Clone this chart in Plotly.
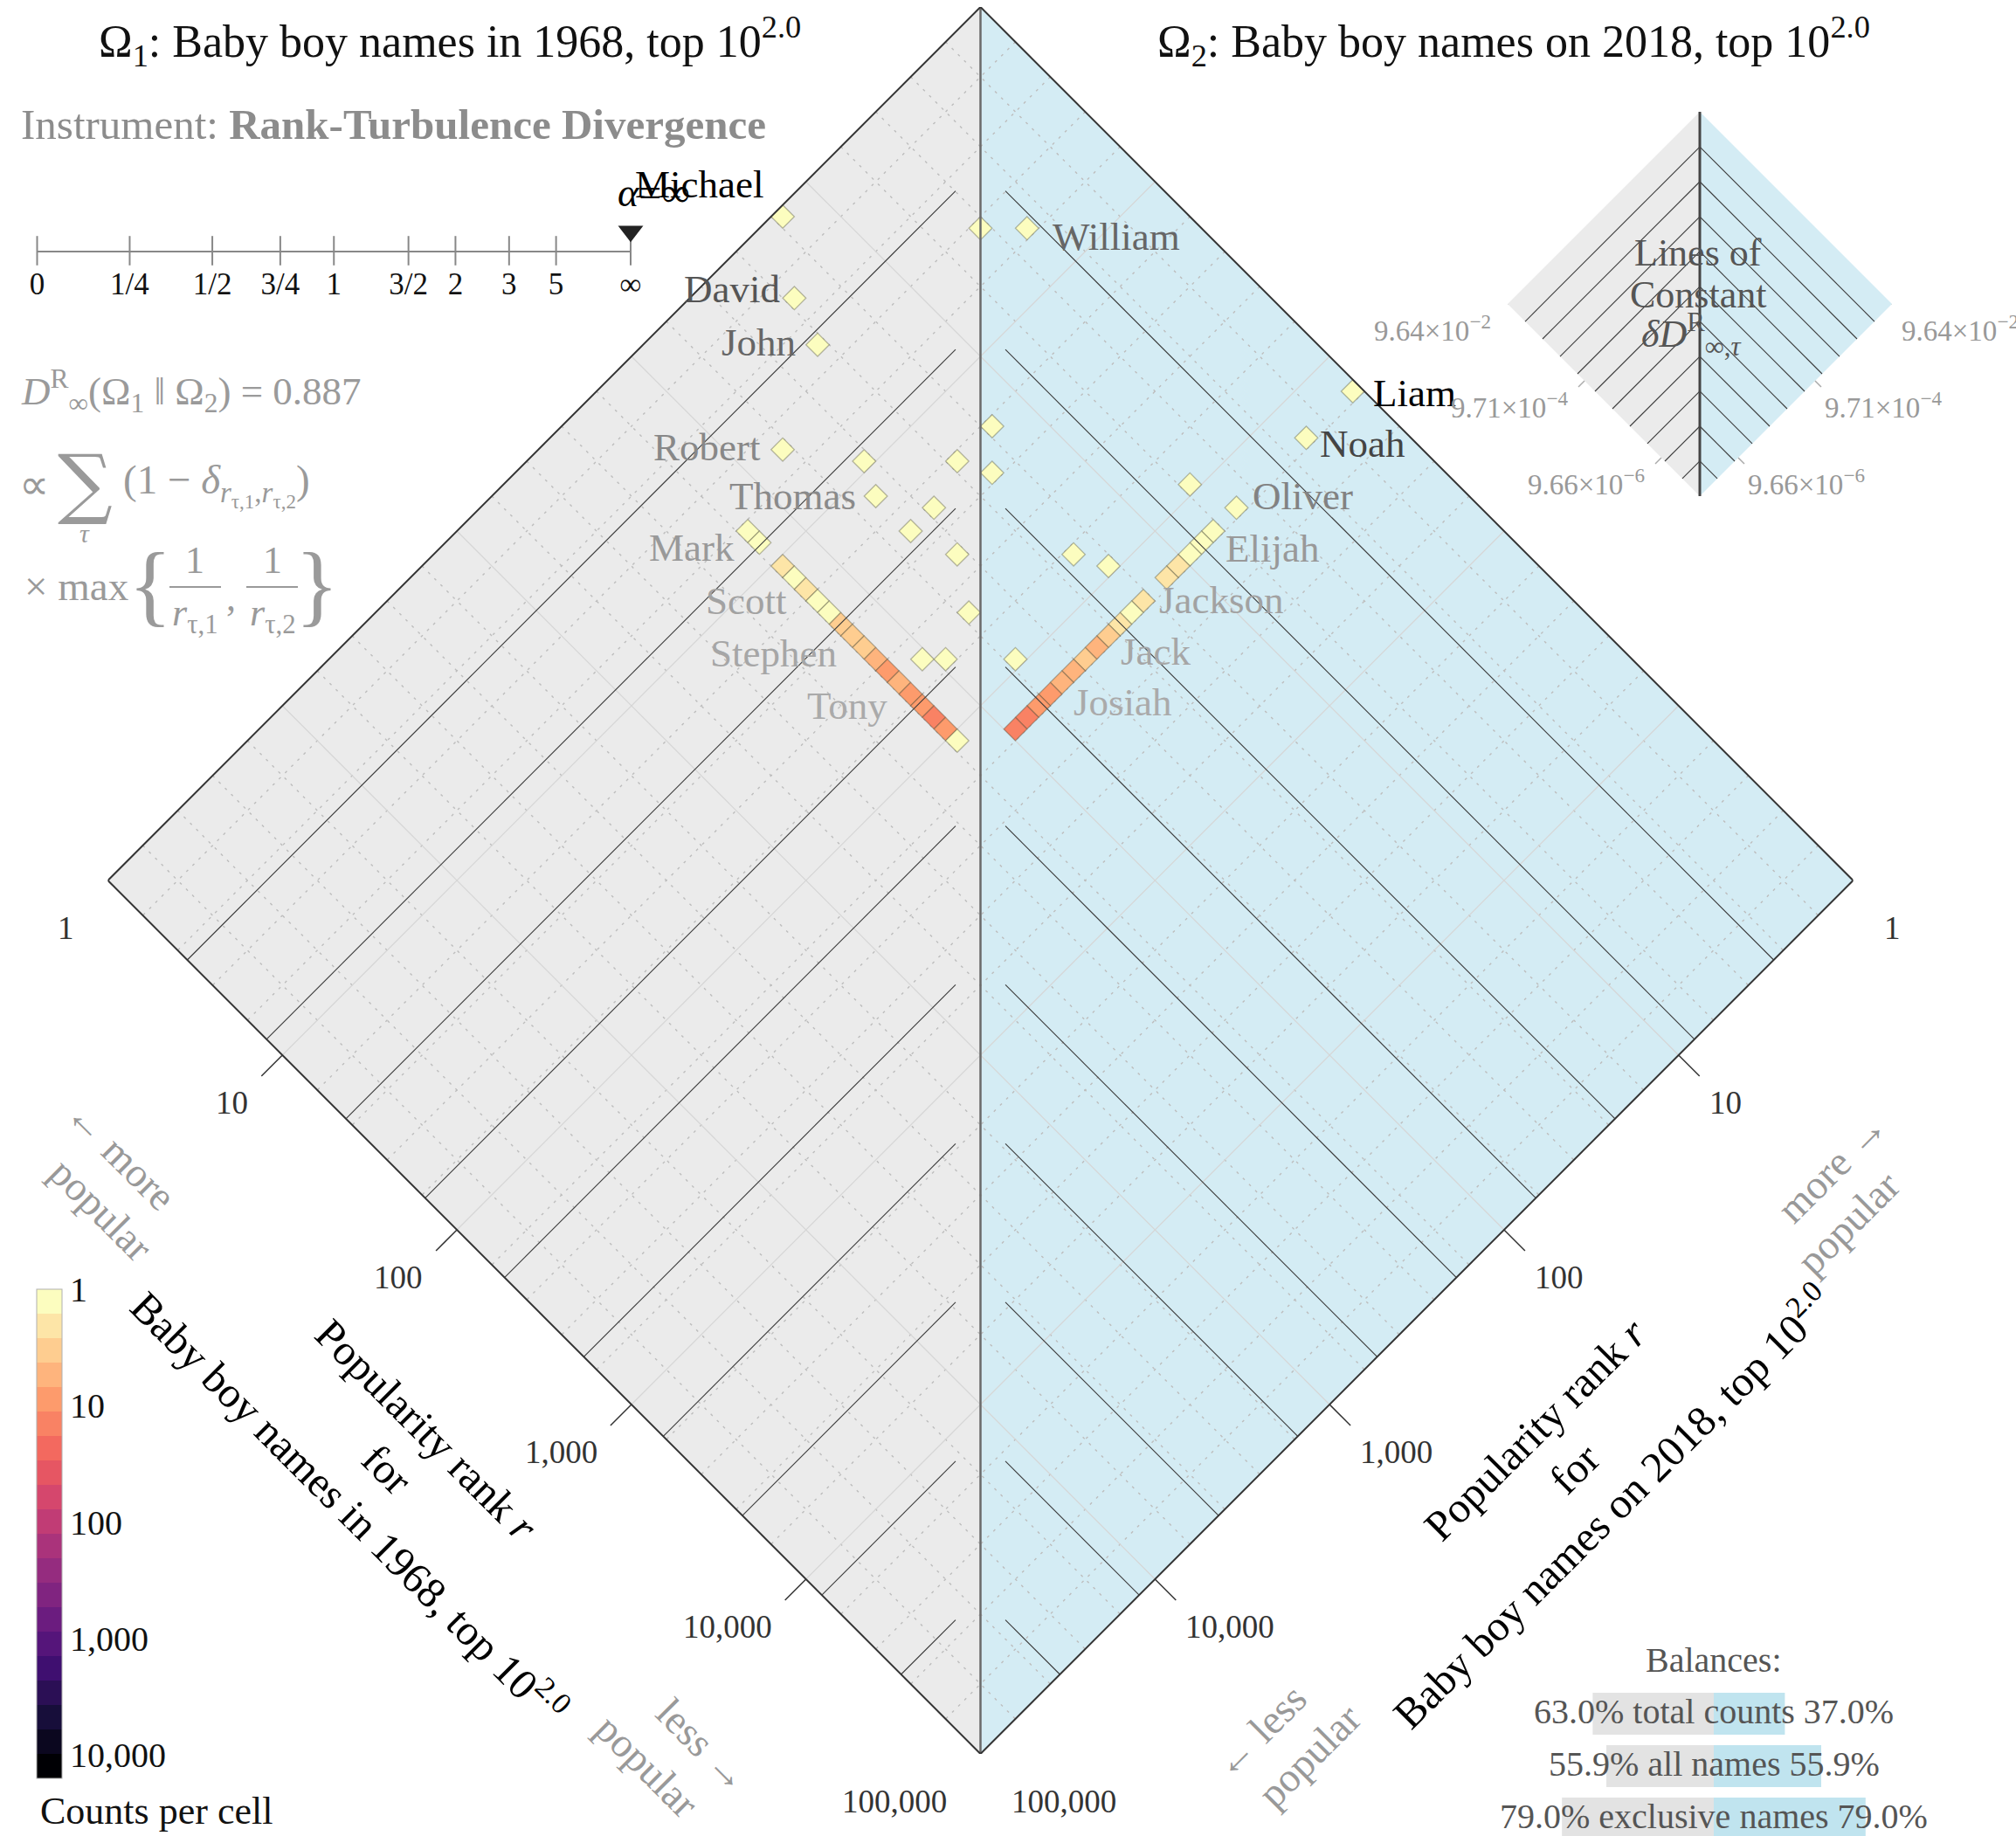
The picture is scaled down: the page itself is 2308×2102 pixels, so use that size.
import math
from collections import Counter

import plotly.graph_objects as go
from plotly.colors import sample_colorscale

# ============================ DATA ============================
TOP_N = 100                 # top 10^2.0 names in each year
RANK_DECADES = 5            # rank axes run from 1 to 100,000
BINS_PER_DECADE = 15        # log-spaced histogram cells

# names found in both top-100 lists (None = unlabeled in the chart)
shared_names = ["Michael", None, "William", "David", "John", "Robert", None, None, None, None,
                "Thomas", None, None, None, None, None, None, None, None, None, None]
shared_rank_1968 = [1, 4, 6, 2, 3, 5, 9, 16, 17, 22, 12, 19, 20, 31, 68, 88, 52, 49, 58, 92, 96]
shared_rank_2018 = [14, 4, 3, 22, 27, 64, 42, 23, 15, 20, 49, 36, 50, 41, 19, 16, 58, 100, 90, 59, 6]

# labeled names that appear in only one of the two lists
exclusive_1968_labels = ["Mark", "Scott", "Stephen", "Tony"]
exclusive_1968_label_ranks = [7, 18, 30, 65]
exclusive_2018_labels = ["Liam", "Noah", "Oliver", "Elijah", "Jackson", "Jack", "Josiah"]
exclusive_2018_label_ranks = [1, 2, 5, 7, 17, 28, 53]

rank_ticks = [1, 10, 100, 1000, 10000, 100000]
rank_tick_text = ["1", "10", "100", "1,000", "10,000", "100,000"]

contour_log10_ranks = [0.455, 0.909, 1.364, 1.818, 2.273, 2.727, 3.182, 3.636, 4.091, 4.545]
contour_tick_log10_ranks = [0, 2, 4]
contour_tick_text = ["9.64×10<sup>−2</sup>", "9.71×10<sup>−4</sup>", "9.66×10<sup>−6</sup>"]

alpha_values = [0, 0.25, 0.5, 0.75, 1, 1.5, 2, 3, 5, math.inf]
alpha_tick_text = ["0", "1/4", "1/2", "3/4", "1", "3/2", "2", "3", "5", "∞"]
alpha_chosen = math.inf

divergence = 0.887

balance_labels = ["total counts", "all names", "exclusive names"]
balance_1968 = [63.0, 55.9, 79.0]
balance_2018 = [37.0, 55.9, 79.0]

count_ticks = [1, 10, 100, 1000, 10000]
count_tick_text = ["1", "10", "100", "1,000", "10,000"]
COUNT_LOG_MAX = 4.2
N_COLOR_BANDS = 20

# ============================ STYLE / GEOMETRY ============================
W, H = 2308, 2102
FONT = "Liberation Serif"
CX, HALF_W, TOP_Y, HALF_H = 1122.5, 999.0, 8.0, 1000.0
PXX = HALF_W / RANK_DECADES          # px per x unit (main)
PXY = HALF_H / RANK_DECADES          # px per y unit (main)
LEG_L, LEG_R, LEG_T, LEG_B = 1726, 2166, 128, 568
LEG_PX = (LEG_R - LEG_L) / (2 * RANK_DECADES)

GREY_FILL = "#ebebeb"
BLUE_FILL = "#d4ecf4"

LABEL_OFFSET = {  # pixel offsets (right, down) of label anchor from its cell
    "Michael": (-20, -37), "David": (-14, -10), "John": (-23, -3), "Robert": (-23, -3),
    "Thomas": (-21, 0), "Mark": (-13, 19), "Scott": (-33, 0), "Stephen": (-29, 7), "Tony": (-38, 0),
    "William": (27, 10), "Liam": (21, 2), "Noah": (14, 7), "Oliver": (16, -13), "Elijah": (12, 20),
    "Jackson": (16, -1), "Jack": (12, 18), "Josiah": (11, 23),
}
LABEL_COLOR = {
    "Michael": "#000000", "Liam": "#000000", "David": "#555555", "Noah": "#444444",
    "William": "#666666", "John": "#666666", "Robert": "#888888", "Thomas": "#8a8a8a",
    "Oliver": "#828282", "Mark": "#999999", "Elijah": "#999999", "Scott": "#a2a2a2",
    "Jackson": "#a2a2a2", "Stephen": "#a6a6a6", "Jack": "#a6a6a6", "Tony": "#aaaaaa",
    "Josiah": "#aaaaaa",
}


def to_xy(lu, lv):
    """log10 rank in 1968 (lu) and 2018 (lv) -> rotated diamond coordinates"""
    return lu - lv, -(lu + lv)


def P(xp, yp):
    return xp / W, 1 - yp / H


def bin_center(rank):
    b = math.floor(math.log10(rank) * BINS_PER_DECADE + 1e-9)
    return (b + 0.5) / BINS_PER_DECADE


# ============================ DERIVED DATA ============================
n_exclusive = TOP_N - len(shared_rank_1968)
exclusive_tie_rank = TOP_N + (n_exclusive + 1) / 2
exclusive_1968 = [r for r in range(1, TOP_N + 1) if r not in set(shared_rank_1968)]
exclusive_2018 = [r for r in range(1, TOP_N + 1) if r not in set(shared_rank_2018)]

cells = Counter()
for a, b in zip(shared_rank_1968, shared_rank_2018):
    cells[(bin_center(a), bin_center(b))] += 1
for a in exclusive_1968:
    cells[(bin_center(a), bin_center(exclusive_tie_rank))] += 1
for b in exclusive_2018:
    cells[(bin_center(exclusive_tie_rank), bin_center(b))] += 1

fig = go.Figure()


def seg_trace(segments, ax, color, width, dash=None):
    xs, ys = [], []
    for (u0, v0, u1, v1) in segments:
        x0, y0 = to_xy(u0, v0)
        x1, y1 = to_xy(u1, v1)
        xs += [x0, x1, None]
        ys += [y0, y1, None]
    return go.Scatter(x=xs, y=ys, mode="lines", line=dict(color=color, width=width, dash=dash),
                      xaxis="x" + ax, yaxis="y" + ax, hoverinfo="skip", cliponaxis=False)


def half_fill(ax, side, color):
    D = RANK_DECADES
    pts = [(0, 0), (0, D), (D, D)] if side == "left" else [(0, 0), (D, 0), (D, D)]
    xs, ys = zip(*[to_xy(u, v) for u, v in pts])
    return go.Scatter(x=list(xs) + [xs[0]], y=list(ys) + [ys[0]], mode="lines", fill="toself",
                      fillcolor=color, line=dict(width=0, color=color), xaxis="x" + ax,
                      yaxis="y" + ax, hoverinfo="skip")


D = RANK_DECADES
# ---------------- main diamond ----------------
fig.add_trace(half_fill("", "left", GREY_FILL))
fig.add_trace(half_fill("", "right", BLUE_FILL))

minor = [round(0.2 * k, 1) for k in range(1, 25) if k % 5 != 0]
major = [1, 2, 3, 4]
fig.add_trace(seg_trace([(g, 0, g, D) for g in minor] + [(0, g, D, g) for g in minor], "",
                        "#bdbdbd", 1.4, "3px,7px"))
fig.add_trace(seg_trace([(g, 0, g, D) for g in major] + [(0, g, D, g) for g in major], "",
                        "#d6d6d6", 1.2))

# cells
cx, cy, cc = [], [], []
for (lu, lv), n in cells.items():
    x, y = to_xy(lu, lv)
    cx.append(x)
    cy.append(y)
    cc.append(-math.log10(n))
mag = sample_colorscale("Magma", [i / (N_COLOR_BANDS - 1) for i in range(N_COLOR_BANDS)])
cscale = []
for i in range(N_COLOR_BANDS):
    cscale += [[i / N_COLOR_BANDS, mag[i]], [(i + 1) / N_COLOR_BANDS, mag[i]]]
cell_px = 2 * PXX / BINS_PER_DECADE
fig.add_trace(go.Scatter(
    x=cx, y=cy, mode="markers", hoverinfo="skip", cliponaxis=False,
    marker=dict(symbol="diamond", size=cell_px / 1.3, color=cc, colorscale=cscale,
                cmin=-COUNT_LOG_MAX, cmax=0, line=dict(color="rgba(60,60,40,0.35)", width=1.3),
                colorbar=dict(x=42 / W, xanchor="left", y=1 - 1476 / H, yanchor="top",
                              len=560 / H, lenmode="fraction", thickness=29,
                              thicknessmode="pixels", xpad=0, ypad=0,
                              tickvals=[-math.log10(t) for t in count_ticks],
                              ticktext=count_tick_text, ticks="",
                              tickfont=dict(family=FONT, size=40, color="#111"),
                              outlinewidth=1, outlinecolor="#b0b0b0")),
))

# contour lines (lines of constant delta D), stopping short of the diagonal
gap = 28.5 / PXX
segs = [(c, c + gap, c, D) for c in contour_log10_ranks] + \
       [(c + gap, c, D, c) for c in contour_log10_ranks]
fig.add_trace(seg_trace(segs, "", "#3a3a3a", 1.1))
fig.add_trace(seg_trace([(0, 0, D, D)], "", "#6a6a6a", 2.5))
fig.add_trace(seg_trace([(0, 0, 0, D), (0, D, D, D), (D, D, D, 0), (D, 0, 0, 0)], "", "#333333", 2))

# edge ticks
tx, ty = [], []
for r in rank_ticks:
    lu = math.log10(r)
    x, y = to_xy(lu, D)
    tx += [x, x - 24 / PXX, None]
    ty += [y, y - 24 / PXY, None]
    x, y = to_xy(D, lu)
    tx += [x, x + 24 / PXX, None]
    ty += [y, y - 24 / PXY, None]
fig.add_trace(go.Scatter(x=tx, y=ty, mode="lines", line=dict(color="#333", width=1.5),
                         hoverinfo="skip", cliponaxis=False))

annotations = []


def add_text(text, xp, yp, size, color, xanchor="center", yanchor="middle", angle=0, family=FONT):
    x, y = P(xp, yp)
    annotations.append(dict(text=text, x=x, y=y, xref="paper", yref="paper", xanchor=xanchor,
                            yanchor=yanchor, textangle=angle, showarrow=False,
                            font=dict(family=family, size=size, color=color)))


for r, t in zip(rank_ticks, rank_tick_text):
    lu = math.log10(r)
    x, y = to_xy(lu, D)
    annotations.append(dict(text=t, x=x, y=y, xref="x", yref="y", xanchor="right",
                            yanchor="middle", xshift=-37, yshift=-54, showarrow=False,
                            font=dict(family=FONT, size=37, color="#333")))
    x, y = to_xy(D, lu)
    annotations.append(dict(text=t, x=x, y=y, xref="x", yref="y", xanchor="left",
                            yanchor="middle", xshift=33, yshift=-54, showarrow=False,
                            font=dict(family=FONT, size=37, color="#333")))


# name labels
def add_name(name, lu, lv, side):
    x, y = to_xy(lu, lv)
    dx, dy = LABEL_OFFSET[name]
    annotations.append(dict(text=name, x=x, y=y, xref="x", yref="y",
                            xanchor="right" if side == "left" else "left", yanchor="middle",
                            xshift=dx, yshift=-dy, showarrow=False,
                            font=dict(family=FONT, size=45, color=LABEL_COLOR[name])))


for nm, a, b in zip(shared_names, shared_rank_1968, shared_rank_2018):
    if nm:
        lu, lv = bin_center(a), bin_center(b)
        add_name(nm, lu, lv, "left" if lu < lv else "right")
for nm, a in zip(exclusive_1968_labels, exclusive_1968_label_ranks):
    add_name(nm, bin_center(a), bin_center(exclusive_tie_rank), "left")
for nm, b in zip(exclusive_2018_labels, exclusive_2018_label_ranks):
    add_name(nm, bin_center(exclusive_tie_rank), bin_center(b), "right")

# ---------------- legend diamond ----------------
fig.add_trace(half_fill("3", "left", GREY_FILL))
fig.add_trace(half_fill("3", "right", BLUE_FILL))
lsegs = [(c, c, c, D) for c in contour_log10_ranks] + [(c, c, D, c) for c in contour_log10_ranks]
fig.add_trace(seg_trace(lsegs, "3", "#3a3a3a", 1.1))
fig.add_trace(seg_trace([(0, 0, D, D)], "3", "#444444", 3))
lx, ly = [], []
for lr in contour_tick_log10_ranks:
    x, y = to_xy(lr, D)
    lx += [x, x - 7 / LEG_PX, None]
    ly += [y, y - 7 / LEG_PX, None]
    x, y = to_xy(D, lr)
    lx += [x, x + 7 / LEG_PX, None]
    ly += [y, y - 7 / LEG_PX, None]
fig.add_trace(go.Scatter(x=lx, y=ly, mode="lines", line=dict(color="#aaaaaa", width=1.5),
                         xaxis="x3", yaxis="y3", hoverinfo="skip", cliponaxis=False))
for lr, t in zip(contour_tick_log10_ranks, contour_tick_text):
    x, y = to_xy(lr, D)
    annotations.append(dict(text=t, x=x, y=y, xref="x3", yref="y3", xanchor="right",
                            yanchor="middle", xshift=-17, yshift=-28, showarrow=False,
                            font=dict(family=FONT, size=33, color="#999")))
    x, y = to_xy(D, lr)
    annotations.append(dict(text=t, x=x, y=y, xref="x3", yref="y3", xanchor="left",
                            yanchor="middle", xshift=9, yshift=-28, showarrow=False,
                            font=dict(family=FONT, size=33, color="#999")))
add_text("Lines of", 1944, 289, 44, "#555")
add_text("Constant", 1944, 337, 44, "#555")
add_text("<i>δD</i><sup>R</sup><sub>∞,<i>τ</i></sub>", 1936, 383, 44, "#555")


# ---------------- alpha scale ----------------
def f_alpha(a):
    return 1.0 if math.isinf(a) else 2 / math.pi * math.atan(a)


av = [f_alpha(a) for a in alpha_values]
fig.add_trace(go.Scatter(x=av, y=[0] * len(av), mode="markers", xaxis="x2", yaxis="y2",
                         marker=dict(symbol="line-ns", size=24, line=dict(color="#888", width=2)),
                         hoverinfo="skip", cliponaxis=False))
fig.add_trace(go.Scatter(x=[f_alpha(alpha_chosen)], y=[0.39], mode="markers", xaxis="x2",
                         yaxis="y2", marker=dict(symbol="triangle-down", size=25, color="#222"),
                         hoverinfo="skip", cliponaxis=False))
add_text("<i>α</i>=∞", 748, 221, 46, "#000")

# ---------------- balances ----------------
fig.add_trace(go.Bar(x=[-v for v in balance_1968], y=[0, 1, 2], orientation="h", width=0.8,
                     marker=dict(color="#e3e3e3", line=dict(width=0)), xaxis="x4", yaxis="y4",
                     hoverinfo="skip"))
fig.add_trace(go.Bar(x=balance_2018, y=[0, 1, 2], orientation="h", width=0.8,
                     marker=dict(color="#c0e4ef", line=dict(width=0)), xaxis="x4", yaxis="y4",
                     hoverinfo="skip"))
for i, (lab, a, b) in enumerate(zip(balance_labels, balance_1968, balance_2018)):
    annotations.append(dict(text=f"{a:.1f}% {lab} {b:.1f}%", x=0, y=i - 0.05, xref="x4",
                            yref="y4", showarrow=False, xanchor="center", yanchor="middle",
                            font=dict(family=FONT, size=40, color="#555")))
add_text("Balances:", 1962, 1900, 40, "#555")

# ---------------- text ----------------
add_text("Ω<sub>1</sub>: Baby boy names in 1968, top 10<sup>2.0</sup>", 515, 47, 52, "#111")
add_text("Ω<sub>2</sub>: Baby boy names on 2018, top 10<sup>2.0</sup>", 1733, 47, 52, "#111")
add_text("Instrument: <b>Rank-Turbulence Divergence</b>", 22, 142, 49, "#8c8c8c", "left")

GF = "#9a9a9a"
add_text(f"<i>D</i><sup>R</sup><sub>∞</sub>(Ω<sub>1</sub> ‖ Ω<sub>2</sub>) = {divergence:.3f}",
         22, 448, 45, GF, "left")
add_text("∝", 20, 555, 48, GF, "left")
add_text("∑", 97, 552, 88, GF, family="DejaVu Serif")
add_text("<i>τ</i>", 97, 610, 30, GF)
add_text("(1 − <i>δ</i><sub><i>r</i><sub>τ,1</sub>,<i>r</i><sub>τ,2</sub></sub>)", 139, 555, 47, GF, "left")
add_text("× max", 26, 671, 47, GF, "left")
add_text("{", 172, 668, 104, GF)
add_text("}", 363, 668, 104, GF)
add_text("1", 223, 641, 44, GF)
add_text("1", 312, 641, 44, GF)
add_text("<i>r</i><sub>τ,1</sub>", 223, 704, 44, GF)
add_text("<i>r</i><sub>τ,2</sub>", 312, 704, 44, GF)
add_text(",", 264, 684, 44, GF)

add_text("Popularity rank <i>r</i><br>for<br>Baby boy names in 1968, top 10<sup>2.0</sup>",
         443, 1682, 49, "#000", angle=45)
add_text("Popularity rank <i>r</i><br>for<br>Baby boy names on 2018, top 10<sup>2.0</sup>",
         1802, 1682, 49, "#000", angle=-45)
add_text("← more", 138, 1322, 47, "#999", angle=45)
add_text("popular", 116, 1385, 47, "#999", angle=45)
add_text("less →", 805, 1998, 47, "#999", angle=45)
add_text("popular", 741, 2022, 47, "#999", angle=45)
add_text("more →", 2097, 1337, 47, "#999", angle=-45)
add_text("popular", 2116, 1400, 47, "#999", angle=-45)
add_text("← less", 1442, 1982, 47, "#999", angle=-45)
add_text("popular", 1499, 2010, 47, "#999", angle=-45)

add_text("Counts per cell", 44, 2073, 44, "#111", "left")

shapes = []
for (x0, x1) in [(194, 253), (282, 341)]:
    a0, b0 = P(x0, 672)
    a1, _ = P(x1, 672)
    shapes.append(dict(type="line", xref="paper", yref="paper", x0=a0, x1=a1, y0=b0, y1=b0,
                       line=dict(color=GF, width=2)))

# ---------------- layout ----------------
fig.update_layout(
    width=W, height=H, margin=dict(l=0, r=0, t=0, b=0, pad=0, autoexpand=False),
    paper_bgcolor="white", plot_bgcolor="rgba(0,0,0,0)", showlegend=False, barmode="overlay",
    annotations=annotations, shapes=shapes,
    xaxis=dict(domain=[(CX - HALF_W) / W, (CX + HALF_W) / W], range=[-D, D], visible=False),
    yaxis=dict(domain=[1 - (TOP_Y + 2 * HALF_H) / H, 1 - TOP_Y / H], range=[-2 * D, 0],
               visible=False),
    xaxis2=dict(domain=[42.5 / W, 722 / W], range=[0, 1], anchor="y2", showline=True,
                linecolor="#888", linewidth=2, tickvals=av, ticktext=alpha_tick_text,
                ticks="", showgrid=False, zeroline=False, ticklabelstandoff=6,
                tickfont=dict(family=FONT, size=35, color="#111")),
    yaxis2=dict(domain=[1 - 287 / H, 1 - 230 / H], range=[0, 1], visible=False),
    xaxis3=dict(domain=[LEG_L / W, LEG_R / W], range=[-D, D], visible=False),
    yaxis3=dict(domain=[1 - LEG_B / H, 1 - LEG_T / H], range=[-2 * D, 0], visible=False),
    xaxis4=dict(domain=[1742 / W, 2182 / W], range=[-100, 100], visible=False),
    yaxis4=dict(domain=[0, 1 - 1932 / H], range=[2.3333, -0.5], visible=False),
)

fig.write_html("out.html", config={"displayModeBar": False, "staticPlot": True},
               post_script="document.body.style.margin='0px';document.body.style.overflow='hidden';")
